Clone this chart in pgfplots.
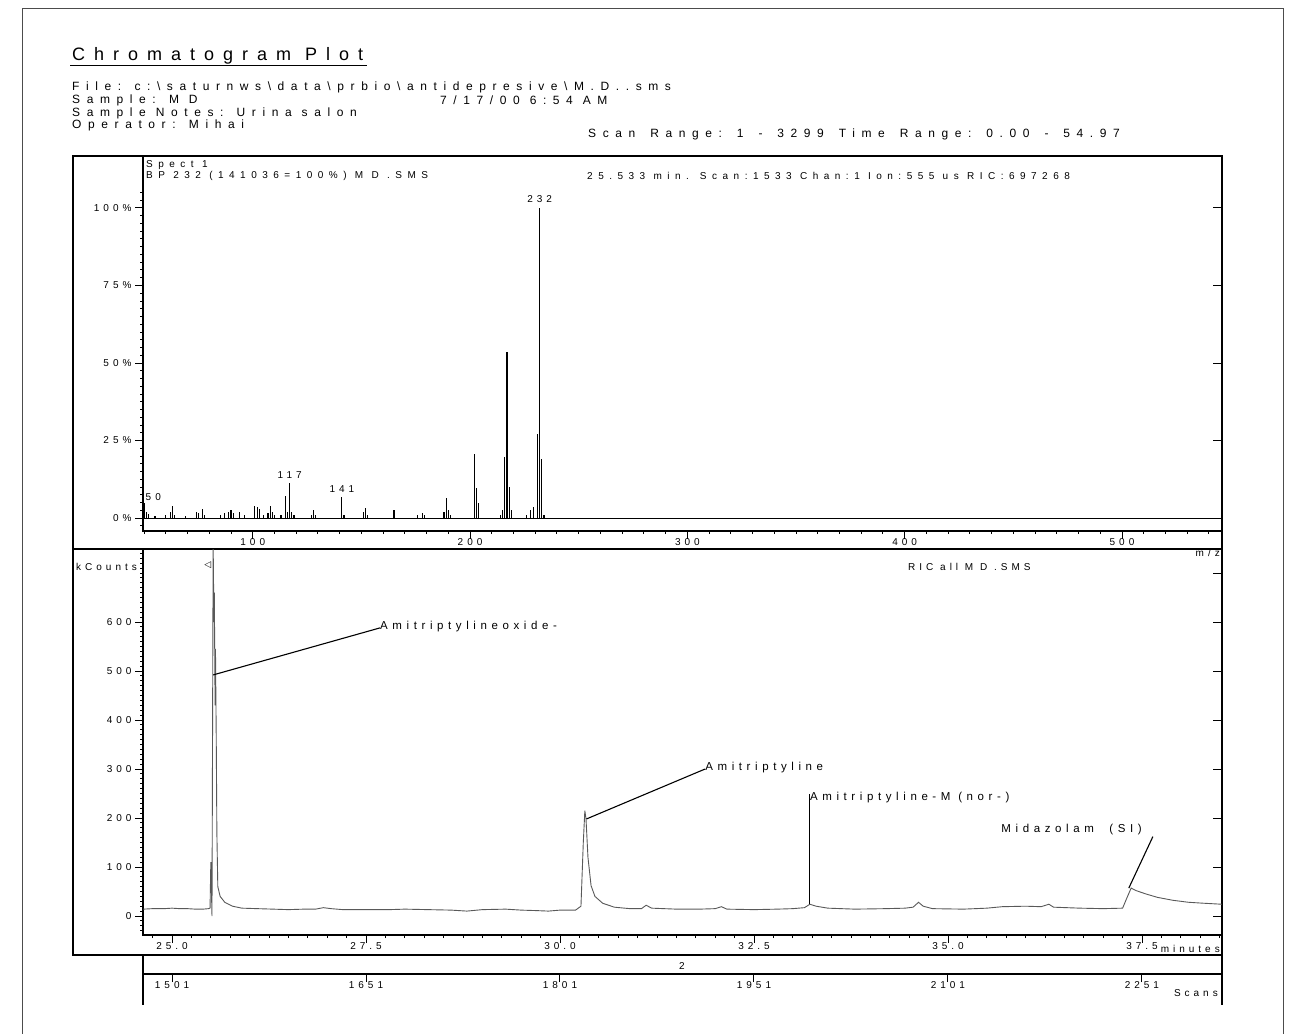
\documentclass[border=0pt]{standalone}
\usepackage{pgfplots}
\pgfplotsset{compat=1.18}
\usepackage{pgfplotstable}
\usepackage{fontspec}
\setmainfont{Liberation Sans}
\newfontfamily\cf[LetterSpace=40]{Liberation Sans}
\newfontfamily\cfw[LetterSpace=55]{Liberation Sans}
\newfontfamily\cft[LetterSpace=50]{Liberation Sans}
\newfontfamily\sym{DejaVu Sans}
\newcommand{\fs}{\cf\fontsize{10}{12}\selectfont}
\newcommand{\fw}{\cfw\fontsize{10}{12}\selectfont}
\newcommand{\fh}{\cfw\fontsize{12}{13}\selectfont}
\newcommand{\fl}{\cf\fontsize{11.5}{13}\selectfont}
\newcommand{\ftit}{\cft\fontsize{18}{20}\selectfont}
\newcommand{\wsp}{\ \hspace{5pt}}

\pgfplotstableread{
mz p
50 5
51 2
52 1.2
55 0.8
60 1
62 2
63 4
64 1
69 0.6
74 2
75 1.5
77 3
78 1
85 1
87 1.5
89 2
90 2.5
91 1.5
94 2
96 1
101 4
102 3.5
103 3
105 1
107 1.5
108 4
109 2
110 1
113 1
115 7
116 2
117 11.3
118 2
119 1
127 1
128 2.5
129 1
141 6.8
142 1
151 2
152 3.2
153 1
165 2.5
176 1
178 1.5
179 1
188 2
189 6.5
190 2.5
191 1
202 20.6
203 9.7
204 5
214 1
215 2.5
216 19.6
217 53.5
218 10
219 2.5
226 1
228 2.5
229 3.5
231 27
232 100
233 19
234 1
}\spec

\pgfplotstableread{
t v
24.63 14
24.75 15
24.9 15
25.0 16
25.1 15
25.2 15
25.3 14
25.4 14
25.47 15
25.49 16
25.50 110
25.515 0
25.53 760
25.54 600
25.545 660
25.555 430
25.56 545
25.57 360
25.578 170
25.59 60
25.62 40
25.68 28
25.78 20
25.9 16
26.1 15
26.3 14
26.5 13
26.7 14
26.85 14
26.95 17
27.05 15
27.2 13
27.5 13
27.8 13
28.0 14
28.3 13
28.6 12
28.8 10
29.0 13
29.3 14
29.5 12
29.7 11
29.85 10
30.0 12
30.2 12
30.27 20
30.30 150
30.32 215
30.335 198
30.36 120
30.40 62
30.45 40
30.55 26
30.7 18
30.9 15
31.05 15
31.11 22
31.18 16
31.5 14
31.8 14
32.0 15
32.08 19
32.15 14
32.5 13
32.8 14
33.0 15
33.15 17
33.22 24
33.3 20
33.45 16
33.8 14
34.2 15
34.45 16
34.55 18
34.62 28
34.68 20
34.8 15
35.2 14
35.5 16
35.7 19
36.0 20
36.2 19
36.3 24
36.36 18
36.7 16
37.0 15
37.25 16
37.3 35
37.36 57
37.42 52
37.55 45
37.7 38
37.9 32
38.1 28
38.3 26
38.53 24
}\chrom

\begin{document}
\begin{tikzpicture}[x=1pt,y=1pt]
\path[use as bounding box] (0,0) rectangle (1294,-1034);
% outer page border
\draw[line width=1pt,black!70] (22,-1034) -- (22,-8) -- (1283,-8) -- (1283,-1034);
% header
\node[anchor=base west,inner sep=0] at (72,-60) {\ftit Chromatogram Plot};
\draw[line width=1pt] (70,-65) -- (367,-65);
\node[anchor=base west,inner sep=0] at (72,-90) {\fh File: c:\textbackslash saturnws\textbackslash data\textbackslash prbio\textbackslash antidepresive\textbackslash M.D..sms};
\node[anchor=base west,inner sep=0] at (72,-103) {\fh Sample: M D};
\node[anchor=base west,inner sep=0] at (440,-104) {\fh 7/17/00 6:54 AM};
\node[anchor=base west,inner sep=0] at (72,-116) {\fh Sample Notes: Urina salon};
\node[anchor=base west,inner sep=0] at (72,-128) {\fh Operator: Mihai};
\node[anchor=base west,inner sep=0] at (588,-137) {\fh Scan\wsp Range:\wsp 1\wsp -\wsp 3299\wsp Time\wsp Range:\wsp 0.00\wsp -\wsp 54.97};
% panel frames
\draw[line width=1.8pt] (73,-156) rectangle (1222,-549);
\draw[line width=1.8pt] (73,-549) rectangle (1222,-955);
\draw[line width=1.2pt] (143,-955) -- (143,-1005);
\draw[line width=1.2pt] (1222,-955) -- (1222,-1005);
% top panel header texts
\node[anchor=base west,inner sep=0] at (146,-167) {\fw Spect 1};
\node[anchor=base west,inner sep=0] at (146,-178) {\fw BP 232 (141036=100\%) M D .SMS};
\node[anchor=base west,inner sep=0] at (587,-179) {\fw 25.533 min. Scan:1533 Chan:1 Ion:555 us RIC:697268};
\node[anchor=base east,inner sep=0] at (1220,-556) {\fs m/z};

% ---------- top panel: mass spectrum ----------
\begin{axis}[at={(143pt,-531pt)},anchor=south west,scale only axis,
  width=1079pt,height=375pt,
  xmin=49.5,xmax=546,ymin=-4.19,ymax=116.77,
  axis line style={line width=1.2pt},
  xtick={100,200,300,400,500},xticklabels={100,200,300,400,500},
  minor xtick={50,60,...,540},
  ytick={0,25,50,75,100},yticklabels={0\%,25\%,50\%,75\%,100\%},
  minor ytick={-2.5,0,...,105},
  xtick pos=bottom,ytick pos=left,tick align=outside,
  major tick length=8pt,minor tick length=3pt,
  tick style={line width=1pt,black},
  tick label style={font=\fs},
  xticklabel style={yshift=4pt},
  clip=true]
\addplot[ycomb,line width=1.1pt,black] table[x=mz,y=p] {\spec};
\addplot[line width=1pt,black] coordinates {(49.5,0) (546,0)};
\node[anchor=south west,inner sep=1pt] at (axis cs:50.2,5.3) {\fs 50};
\node[anchor=south,inner sep=1pt] at (axis cs:117,12.5) {\fs 117};
\node[anchor=south,inner sep=1pt] at (axis cs:141,8) {\fs 141};
\node[anchor=south,inner sep=1pt] at (axis cs:232,101.5) {\fs 232};
\end{axis}
\begin{axis}[at={(143pt,-531pt)},anchor=south west,scale only axis,
  width=1079pt,height=375pt,
  xmin=49.5,xmax=546,ymin=-4.19,ymax=116.77,
  axis x line=none,axis y line*=right,axis line style={draw=none},
  ytick={0,25,50,75,100},yticklabels={},tick align=inside,
  major tick length=9pt,tick style={line width=1pt,black}]
\addplot[draw=none] coordinates {(100,0)};
\end{axis}

% ---------- bottom panel: chromatogram ----------
\node[anchor=base west,inner sep=0] at (76,-570) {\fs kCounts};
\node[anchor=base west,inner sep=0] at (908,-570) {\fs RIC all M D .SMS};
\begin{axis}[at={(143pt,-935pt)},anchor=south west,scale only axis,
  width=1079pt,height=386pt,
  xmin=24.626,xmax=38.531,ymin=-38.8,ymax=749,
  axis line style={line width=1.2pt},
  xtick={25,27.5,30,32.5,35,37.5},xticklabels={25.0,27.5,30.0,32.5,35.0,37.5},
  minor xtick={24.75,25,...,38.5},
  ytick={0,100,...,600},yticklabels={0,100,200,300,400,500,600},
  minor ytick={-30,-20,...,740},
  xtick pos=bottom,ytick pos=left,tick align=outside,
  major tick length=8pt,minor tick length=3pt,
  tick style={line width=1pt,black},
  tick label style={font=\fs},
  xticklabel style={yshift=4pt},
  clip=true]
\addplot[line width=0.9pt,black!65] table[x=t,y=v] {\chrom};
\draw[line width=1.1pt] (axis cs:25.53,492) -- (axis cs:27.68,588);
\node[anchor=base west,inner sep=0] at (axis cs:27.68,584) {\fl Amitriptylineoxide-};
\draw[line width=1.1pt] (axis cs:30.34,198) -- (axis cs:31.87,300);
\node[anchor=base west,inner sep=0] at (axis cs:31.87,296) {\fl Amitriptyline};
\draw[line width=1.1pt] (axis cs:33.22,24) -- (axis cs:33.22,250);
\node[anchor=base west,inner sep=0] at (axis cs:33.22,236) {\fl Amitriptyline-M (nor-)};
\draw[line width=1.1pt] (axis cs:37.33,57) -- (axis cs:37.64,162);
\node[anchor=base east,inner sep=0] at (axis cs:37.5,171) {\fl Midazolam~~(SI)};
\node[inner sep=0] at (axis cs:25.46,716) {\sym\fontsize{9}{10}\selectfont ◁};
\end{axis}
\begin{axis}[at={(143pt,-935pt)},anchor=south west,scale only axis,
  width=1079pt,height=386pt,
  xmin=24.626,xmax=38.531,ymin=-38.8,ymax=749,
  axis x line=none,axis y line*=right,axis line style={draw=none},
  ytick={0,100,...,700},yticklabels={},tick align=inside,
  major tick length=9pt,tick style={line width=1pt,black}]
\addplot[draw=none] coordinates {(30,0)};
\end{axis}
\node[anchor=base east,inner sep=0] at (1220,-952) {\fs minutes};

% ---------- scans axis ----------
\begin{axis}[at={(143pt,-974pt)},anchor=south west,scale only axis,
  width=1079pt,height=10pt,
  xmin=1478.56,xmax=2312.9,ymin=0,ymax=1,
  axis x line*=bottom,axis y line=none,
  axis line style={line width=1.1pt,-},
  xtick={1501,1651,1801,1951,2101,2251},xticklabels={1501,1651,1801,1951,2101,2251},
  tick align=outside,major tick length=8pt,
  tick style={line width=1pt,black},
  tick label style={font=\fs},
  xticklabel style={yshift=4pt}]
\addplot[draw=none] coordinates {(1600,0.5)};
\end{axis}
\node[inner sep=0] at (682,-966) {\fs 2};
\node[anchor=base east,inner sep=0] at (1218,-996) {\fs Scans};
\end{tikzpicture}
\end{document}
